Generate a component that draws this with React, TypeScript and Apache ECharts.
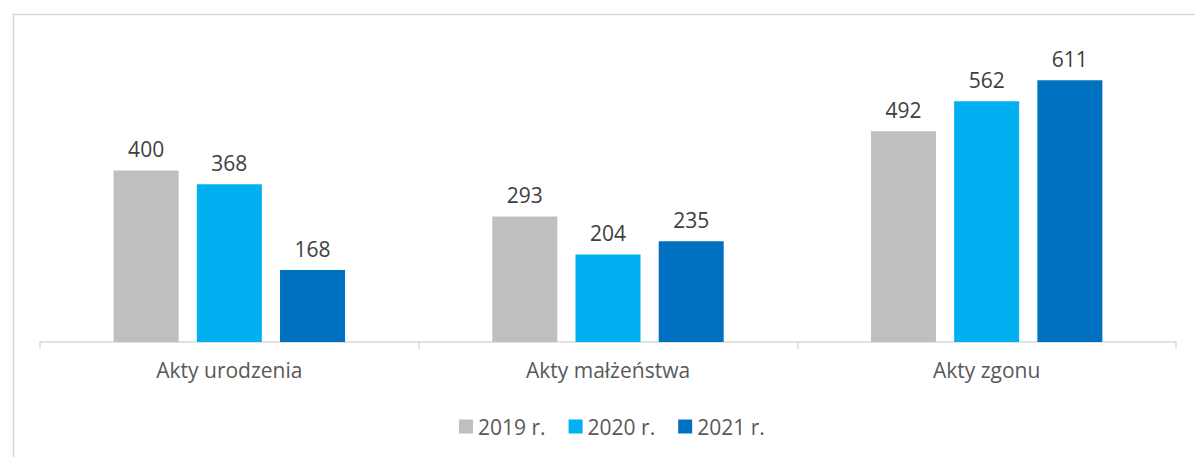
import React, { useEffect, useRef } from "react";
import * as echarts from "echarts";

const categories = ["Akty urodzenia", "Akty małżeństwa", "Akty zgonu"];
const seriesNames = ["2019 r.", "2020 r.", "2021 r."];
const values2019 = [400, 293, 492];
const values2020 = [368, 204, 562];
const values2021 = [168, 235, 611];
const colors = ["#BFBFBF", "#00B0F0", "#0070C0"];

const FONT = "'Open Sans', 'Noto Sans', sans-serif";

export default function App() {
  const ref = useRef<HTMLDivElement>(null);
  useEffect(() => {
    document.body.style.margin = "0";
    const chart = echarts.init(ref.current!, null, { renderer: "svg" });
    const data = [values2019, values2020, values2021];
    chart.setOption({
      animation: false,
      backgroundColor: "#ffffff",
      textStyle: { fontFamily: FONT },
      graphic: [
        {
          type: "rect",
          left: 11,
          top: 12,
          shape: { width: 1200, height: 460 },
          style: { fill: "none", stroke: "#D9D9D9", lineWidth: 1.5 },
          silent: true,
        },
      ],
      legend: {
        top: 411,
        left: 454,
        itemWidth: 14,
        itemHeight: 14,
        itemGap: 23,
        icon: "rect",
        textStyle: { fontSize: 21, color: "#595959", fontFamily: FONT },
        data: seriesNames,
      },
      grid: { left: 40, right: 19, top: 42, bottom: 115, containLabel: false },
      xAxis: {
        type: "category",
        data: categories,
        axisLine: { lineStyle: { color: "#D9D9D9", width: 1.5 } },
        axisTick: { show: true, length: 7, lineStyle: { color: "#D9D9D9", width: 1.5 } },
        axisLabel: { fontSize: 21, color: "#595959", margin: 17, fontFamily: FONT },
      },
      yAxis: {
        type: "value",
        min: 0,
        max: 700,
        show: false,
        splitLine: { show: false },
      },
      series: seriesNames.map((name, i) => ({
        name,
        type: "bar",
        data: data[i],
        barWidth: 65,
        barGap: "28%",
        itemStyle: { color: colors[i] },
        label: {
          show: true,
          position: "top",
          distance: 11,
          fontSize: 21,
          color: "#404040",
          fontFamily: FONT,
        },
      })),
    });
    return () => chart.dispose();
  }, []);
  return <div ref={ref} style={{ width: 1195, height: 457 }} />;
}
